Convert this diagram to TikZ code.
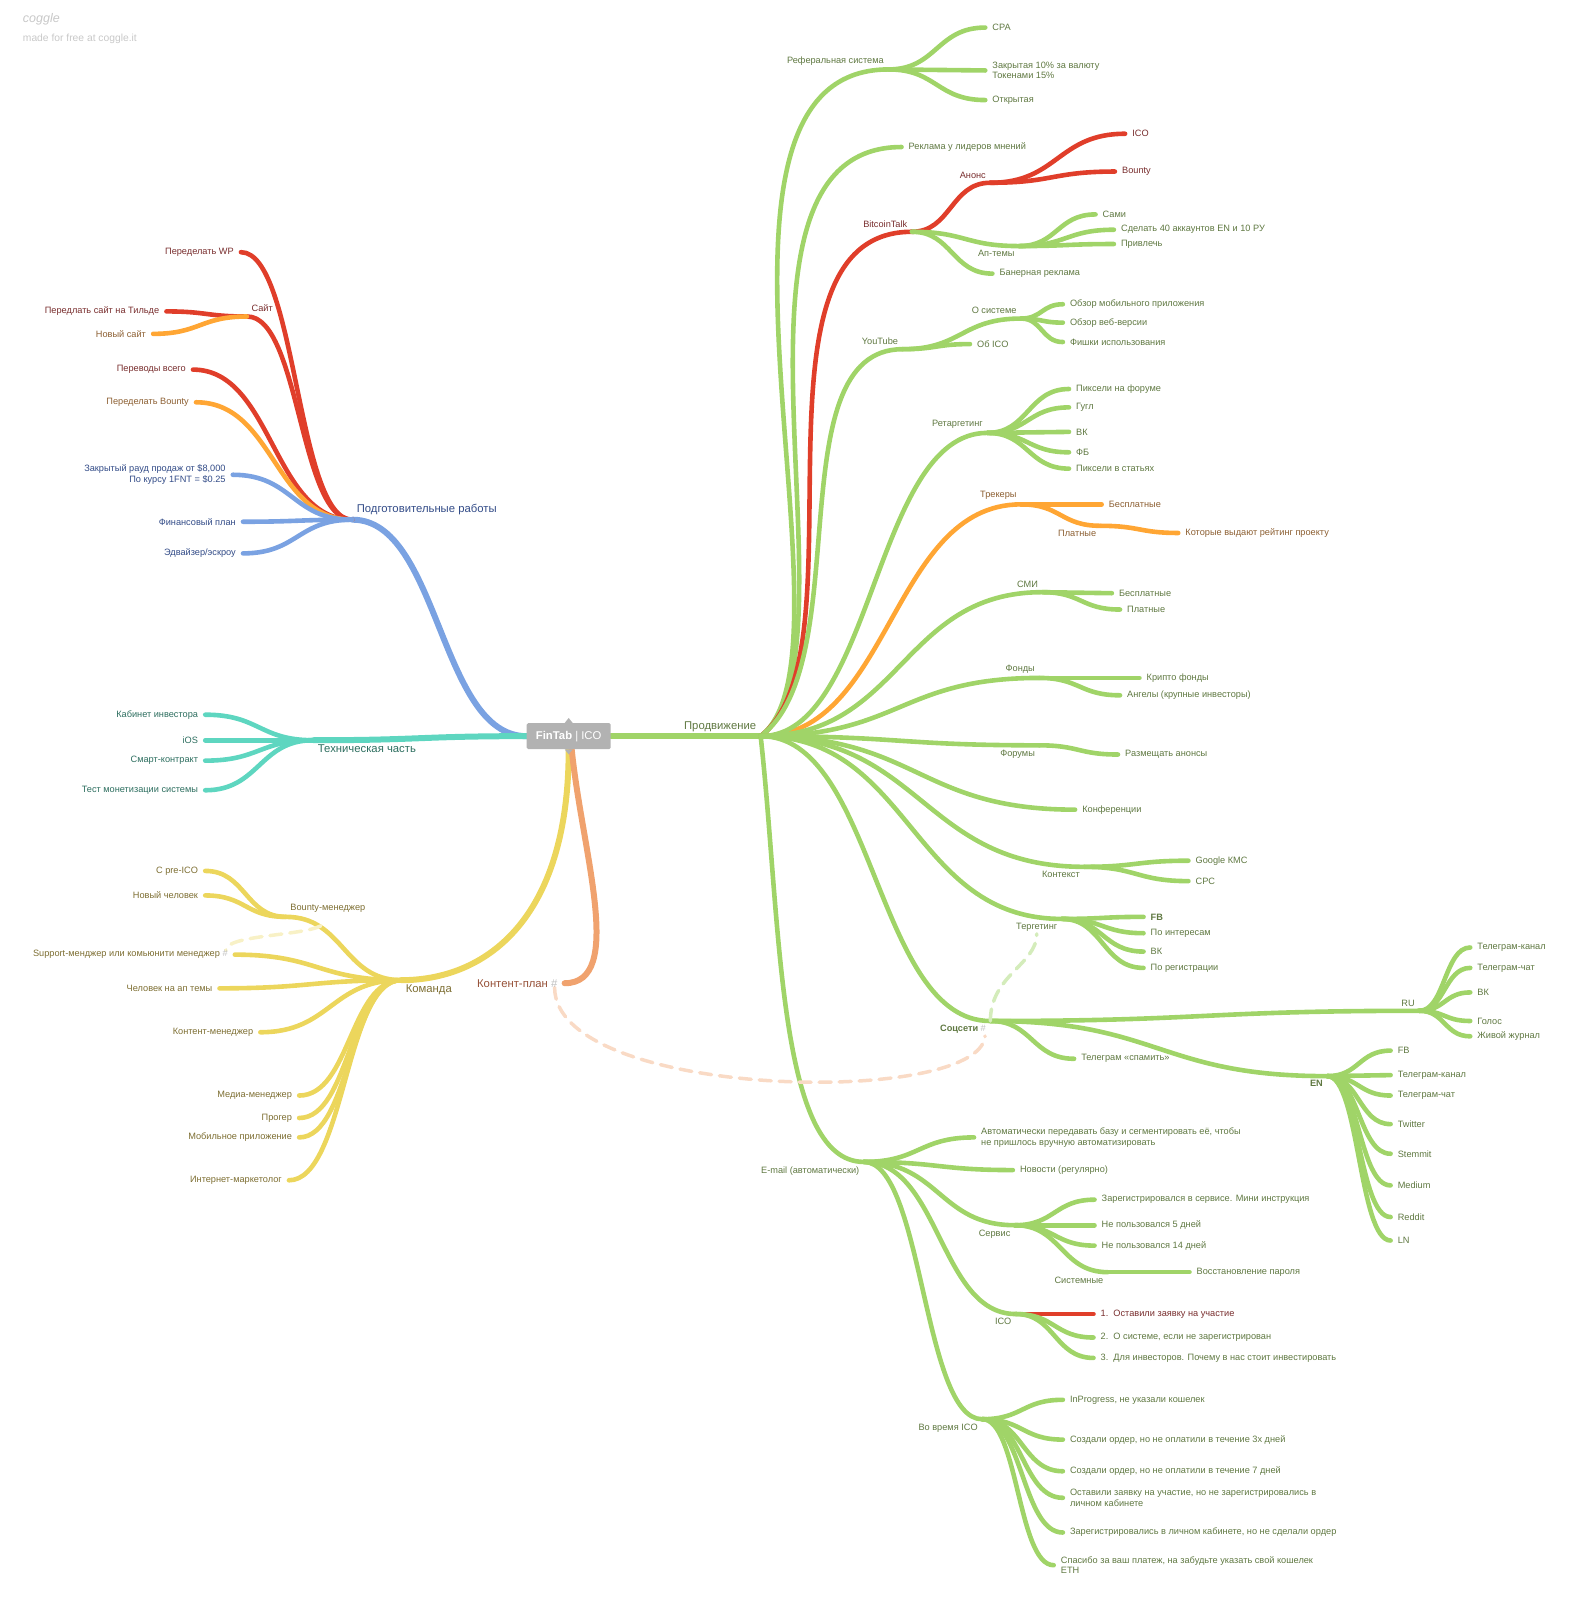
\documentclass[tikz,border=0pt]{standalone}
\usepackage{fontspec}
\setmainfont{Liberation Sans}
\usetikzlibrary{calc,backgrounds}

\definecolor{lgreen}{RGB}{160,212,104}
\definecolor{tgreen}{RGB}{95,120,65}
\definecolor{lred}{RGB}{224,62,42}
\definecolor{tred}{RGB}{120,45,45}
\definecolor{lorange}{RGB}{255,166,52}
\definecolor{torange}{RGB}{140,95,50}
\definecolor{lblue}{RGB}{122,162,226}
\definecolor{tblue}{RGB}{50,75,135}
\definecolor{lteal}{RGB}{94,214,192}
\definecolor{tteal}{RGB}{45,110,95}
\definecolor{lyellow}{RGB}{236,214,92}
\definecolor{tyellow}{RGB}{125,110,50}
\definecolor{lsalmon}{RGB}{240,162,110}
\definecolor{tsalmon}{RGB}{150,80,55}
\definecolor{hash}{RGB}{190,190,190}
\definecolor{rootgray}{RGB}{178,178,178}
\definecolor{logo}{RGB}{200,200,200}

\tikzset{
  hub/.style={inner sep=0pt, minimum size=0pt},
  leaf/.style={font=\fontsize{9.2}{10.7}\selectfont, inner xsep=7pt, inner ysep=0pt},
  lleaf/.style={leaf, anchor=east, align=right},
  rleaf/.style={leaf, anchor=west, align=left},
  lab/.style={font=\fontsize{9.2}{10.7}\selectfont, inner sep=2pt},
  big/.style={font=\fontsize{11.3}{13}\selectfont},
  root/.style={fill=rootgray, text=white, font=\fontsize{11.3}{13}\selectfont,
    minimum width=84pt, minimum height=26pt, rounded corners=1.5pt},
  wire/.style={line width=4.6pt, line cap=round},
  trunk/.style={wire, line width=6pt},
  hint/.style={line width=3.5pt, dash pattern=on 12pt off 8pt, line cap=round},
  branch/.style={to path={let \p1=(\tikztostart), \p2=(\tikztotarget) in
      .. controls ({\x1+#1*(\x2-\x1)},\y1) and ({\x2-#1*(\x2-\x1)},\y2) .. (\tikztotarget)}},
  branch/.default=0.5,
}

\begin{document}
\begin{tikzpicture}[x=1.021pt,y=-1.021pt,label distance=3pt]
\useasboundingbox (0,0) rectangle (1544.6,1567.1);

% logo
\node[anchor=west, text=logo, font=\itshape\fontsize{12.5}{12.5}\selectfont] (coggle) at (19,19) {coggle};
\node[anchor=west, text=logo, font=\fontsize{10.3}{11}\selectfont] (madefor) at (19,38) {made for free at coggle.it};

% centre
\node[root] (fin) at (557,721) {\textbf{FinTab} | ICO};
\fill[rootgray] ([xshift=-4pt]fin.north) -- ([yshift=5pt]fin.north) -- ([xshift=4pt]fin.north) -- cycle;
\fill[rootgray] ([xshift=-4pt]fin.south) -- ([yshift=-5pt]fin.south) -- ([xshift=4pt]fin.south) -- cycle;

% hubs, left
\node[hub, label={[lab,big,text=tblue]above right:Подготовительные работы}] (prep) at (345,509) {};
\node[hub, label={[lab,text=tred]above right:Сайт}] (site) at (242,310) {};
\node[hub, label={[lab,big,text=tteal]below right:Техническая часть}] (tech) at (307,725) {};
\node[hub, label={[lab,big,text=tyellow]below right:Команда}] (team) at (393,960) {};
\node[hub, label={[lab,text=tyellow]above right:Bounty-менеджер}] (bounty) at (280,898) {};

% hubs, right
\node[hub, label={[lab,big,text=tgreen]above left:Продвижение}] (promo) at (745,721) {};
\node[hub, label={[lab,text=tgreen]above left:Реферальная система}] (referal) at (870,68) {};
\node[hub, label={[lab,text=tred]above left:BitcoinTalk}] (btalk) at (893,227) {};
\node[hub, label={[lab,text=tred]above left:Анонс}] (anons) at (970,179) {};
\node[hub, label={[lab,text=tgreen]below left:Ап-темы}] (uptheme) at (998,241) {};
\node[hub, label={[lab,text=tgreen]above left:YouTube}] (yt) at (884,342) {};
\node[hub, label={[lab,text=tgreen]above left:О системе}] (aboutsys) at (1000,312) {};
\node[hub, label={[lab,text=tgreen]above left:Ретаргетинг}] (retarget) at (967,424) {};
\node[hub, label={[lab,text=torange]above left:Трекеры}] (trackers) at (1000,494) {};
\node[hub, label={[lab,text=torange]below left:Платные}] (paid) at (1078,515) {};
\node[hub, label={[lab,text=tgreen]above left:СМИ}] (smi) at (1021,580) {};
\node[hub, label={[lab,text=tgreen]above left:Фонды}] (funds) at (1018,664) {};
\node[hub, label={[lab,text=tgreen]below left:Форумы}] (forums) at (1018,730) {};
\node[hub, label={[lab,text=tgreen]below left:Контекст}] (context) at (1062,849) {};
\node[hub, label={[lab,text=tgreen,name=terg-l]below left:Тергетинг}] (target) at (1040,900) {};
\node[hub, label={[lab,text=tgreen,name=socs-l]below left:{\textbf{Соцсети} \textcolor{hash}{\#}}}] (socs) at (970,1000) {};
\node[hub, label={[lab,text=tgreen]above left:RU}] (ru) at (1390,990) {};
\node[hub, label={[lab,text=tgreen]below left:\textbf{EN}}] (en) at (1300,1054) {};
\node[hub, label={[lab,text=tgreen]below left:E-mail (автоматически)}] (email) at (846,1138) {};
\node[hub, label={[lab,text=tgreen]below left:Сервис}] (service) at (994,1200) {};
\node[hub, label={[lab,text=tgreen]below left:Системные}] (system) at (1085,1246) {};
\node[hub, label={[lab,text=tgreen]below left:ICO}] (icomail) at (995,1287) {};
\node[hub, label={[lab,text=tgreen]below left:Во время ICO}] (during) at (962,1390) {};

% leaves, left
\node[lleaf, text=tred] (wp) at (236,247) {Переделать WP};
\node[lleaf, text=tred] (tilda) at (163,305) {Передлать сайт на Тильде};
\node[lleaf, text=torange] (newsite) at (150,327) {Новый сайт};
\node[lleaf, text=tred] (transl) at (189,362) {Переводы всего};
\node[lleaf, text=torange] (rebounty) at (192,394) {Переделать Bounty};
\node[lleaf, text=tblue] (closed) at (228,465) {Закрытый рауд продаж от \$8,000\\По курсу 1FNT = \$0.25};
\node[lleaf, text=tblue] (finplan) at (238,511) {Финансовый план};
\node[lleaf, text=tblue] (escrow) at (238,542) {Эдвайзер/эскроу};
\node[lleaf, text=tteal] (cabinet) at (201,700) {Кабинет инвестора};
\node[lleaf, text=tteal] (ios) at (201,725) {iOS};
\node[lleaf, text=tteal] (smart) at (201,745) {Смарт-контракт};
\node[lleaf, text=tteal] (test) at (201,774) {Тест монетизации системы};
\node[lleaf, text=tyellow] (preico) at (201,853) {С pre-ICO};
\node[lleaf, text=tyellow] (newman) at (201,877) {Новый человек};
\node[lleaf, text=tyellow] (supp) at (230,935) {Support-менджер или комьюнити менеджер \textcolor{hash}{\#}};
\node[lleaf, text=tyellow] (uptopic) at (215,968) {Человек на ап темы};
\node[lleaf, text=tyellow] (contman) at (255,1011) {Контент-менеджер};
\node[lleaf, text=tyellow] (media) at (293,1073) {Медиа-менеджер};
\node[lleaf, text=tyellow] (proger) at (293,1095) {Прогер};
\node[lleaf, text=tyellow] (mobile) at (293,1114) {Мобильное приложение};
\node[lleaf, text=tyellow] (marketer) at (283,1156) {Интернет-маркетолог};
\node[lleaf, big, text=tsalmon] (kplan) at (553,963) {Контент-план \textcolor{hash}{\#}};

% leaves, right
\node[rleaf, text=tgreen] (cpa) at (965,27) {CPA};
\node[rleaf, text=tgreen] (closedref) at (965,69) {Закрытая 10\% за валюту\\Токенами 15\%};
\node[rleaf, text=tgreen] (openref) at (965,98) {Открытая};
\node[rleaf, text=tgreen] (leaders) at (883,144) {Реклама у лидеров мнений};
\node[rleaf, text=tred] (btico) at (1102,131) {ICO};
\node[rleaf, text=tred] (btbounty) at (1092,168) {Bounty};
\node[rleaf, text=tgreen] (sami) at (1073,210) {Сами};
\node[rleaf, text=tgreen] (make40) at (1091,225) {Сделать 40 аккаунтов EN и 10 РУ};
\node[rleaf, text=tgreen] (attract) at (1091,239) {Привлечь};
\node[rleaf, text=tgreen] (banner) at (972,268) {Банерная реклама};
\node[rleaf, text=tgreen] (mobrev) at (1041,298) {Обзор мобильного приложения};
\node[rleaf, text=tgreen] (webrev) at (1041,316) {Обзор веб-версии};
\node[rleaf, text=tgreen] (tricks) at (1041,335) {Фишки использования};
\node[rleaf, text=tgreen] (aboutico) at (950,337) {Об ICO};
\node[rleaf, text=tgreen] (pixforum) at (1047,381) {Пиксели на форуме};
\node[rleaf, text=tgreen] (google) at (1047,399) {Гугл};
\node[rleaf, text=tgreen] (rvk) at (1047,423) {ВК};
\node[rleaf, text=tgreen] (rfb) at (1047,443) {ФБ};
\node[rleaf, text=tgreen] (pixart) at (1047,459) {Пиксели в статьях};
\node[rleaf, text=torange] (trfree) at (1079,494) {Бесплатные};
\node[rleaf, text=torange] (rating) at (1154,522) {Которые выдают рейтинг проекту};
\node[rleaf, text=tgreen] (smifree) at (1089,581) {Бесплатные};
\node[rleaf, text=tgreen] (smipaid) at (1097,597) {Платные};
\node[rleaf, text=tgreen] (crypto) at (1116,664) {Крипто фонды};
\node[rleaf, text=tgreen] (angels) at (1097,681) {Ангелы (крупные инвесторы)};
\node[rleaf, text=tgreen] (announce) at (1095,739) {Размещать анонсы};
\node[rleaf, text=tgreen] (conf) at (1053,793) {Конференции};
\node[rleaf, text=tgreen] (kms) at (1164,843) {Google КМС};
\node[rleaf, text=tgreen] (cpc) at (1164,863) {CPC};
\node[rleaf, text=tgreen] (tfb) at (1120,898) {\textbf{FB}};
\node[rleaf, text=tgreen] (interest) at (1120,914) {По интересам};
\node[rleaf, text=tgreen] (tvk) at (1120,932) {ВК};
\node[rleaf, text=tgreen] (byreg) at (1120,948) {По регистрации};
\node[rleaf, text=tgreen] (rutgch) at (1440,928) {Телеграм-канал};
\node[rleaf, text=tgreen] (rutgchat) at (1440,948) {Телеграм-чат};
\node[rleaf, text=tgreen] (ruvk) at (1440,972) {ВК};
\node[rleaf, text=tgreen] (golos) at (1440,1000) {Голос};
\node[rleaf, text=tgreen] (lj) at (1440,1015) {Живой журнал};
\node[rleaf, text=tgreen] (spam) at (1052,1037) {Телеграм «спамить»};
\node[rleaf, text=tgreen] (enfb) at (1362,1029) {FB};
\node[rleaf, text=tgreen] (entgch) at (1362,1053) {Телеграм-канал};
\node[rleaf, text=tgreen] (entgchat) at (1362,1073) {Телеграм-чат};
\node[rleaf, text=tgreen] (twitter) at (1362,1101) {Twitter};
\node[rleaf, text=tgreen] (steemit) at (1362,1130) {Stemmit};
\node[rleaf, text=tgreen] (medium) at (1362,1161) {Medium};
\node[rleaf, text=tgreen] (reddit) at (1362,1192) {Reddit};
\node[rleaf, text=tgreen] (ln) at (1362,1215) {LN};
\node[rleaf, text=tgreen] (auto) at (954,1114) {Автоматически передавать базу и сегментировать её, чтобы\\не пришлось вручную автоматизировать};
\node[rleaf, text=tgreen] (news) at (992,1146) {Новости (регулярно)};
\node[rleaf, text=tgreen] (reg) at (1072,1175) {Зарегистрировался в сервисе. Мини инструкция};
\node[rleaf, text=tgreen] (nouse5) at (1072,1200) {Не пользовался 5 дней};
\node[rleaf, text=tgreen] (nouse14) at (1072,1220) {Не пользовался 14 дней};
\node[rleaf, text=tgreen] (passw) at (1165,1246) {Восстановление пароля};
\node[rleaf, text=tred] (ico1) at (1071,1287) {1.\ \ Оставили заявку на участие};
\node[rleaf, text=tgreen] (ico2) at (1071,1310) {2.\ \ О системе, если не зарегистрирован};
\node[rleaf, text=tgreen] (ico3) at (1071,1330) {3.\ \ Для инвесторов. Почему в нас стоит инвестировать};
\node[rleaf, text=tgreen] (inprog) at (1041,1371) {InProgress, не указали кошелек};
\node[rleaf, text=tgreen] (order3) at (1041,1410) {Создали ордер, но не оплатили в течение 3х дней};
\node[rleaf, text=tgreen] (order7) at (1041,1441) {Создали ордер, но не оплатили в течение 7 дней};
\node[rleaf, text=tgreen] (applied) at (1041,1467) {Оставили заявку на участие, но не зарегистрировались в\\личном кабинете};
\node[rleaf, text=tgreen] (noorder) at (1041,1501) {Зарегистрировались в личном кабинете, но не сделали ордер};
\node[rleaf, text=tgreen] (thanks) at (1032,1533) {Спасибо за ваш платеж, на забудьте указать свой кошелек\\ETH};

\begin{scope}[on background layer]
% first level
\draw[trunk, lblue] (fin.west) to[branch] (prep);
\draw[trunk, lteal] (fin.west) to[branch] (tech);
\draw[trunk, lgreen] (fin.east) to[branch] (promo);
\draw[trunk, lyellow] (fin.south) .. controls +(0,170) and +(80,0) .. (team);
\draw[trunk, lsalmon] ([xshift=3pt]fin.south) .. controls +(10,100) and +(60,0) .. (kplan.east);

% left side
\foreach \dst/\col in {wp/lred,site/lred,transl/lred,rebounty/lorange,closed/lblue,finplan/lblue,escrow/lblue}
  \draw[wire,\col] (prep) to[branch] (\dst.east);
\draw[wire, lred] (site) to[branch] (tilda.east);
\draw[wire, lorange] (site) to[branch] (newsite.east);
\foreach \dst in {cabinet,ios,smart,test}
  \draw[wire, lteal] (tech) to[branch] (\dst.east);
\foreach \dst in {bounty,supp,uptopic,contman,media,proger,mobile,marketer}
  \draw[wire, lyellow] (team) to[branch] (\dst.east);
\foreach \dst in {preico,newman}
  \draw[wire, lyellow] (bounty) to[branch] (\dst.east);

% promotion
\draw[wire, lgreen] (promo.center) .. controls +(105,-81) and +(-220,0) .. (referal.center);
\draw[wire, lgreen] (promo.center) .. controls +(105,-81) and +(-203,0) .. (leaders.west);
\draw[wire, lred] (promo.center) .. controls +(105,-81) and +(-173,0) .. (btalk.center);
\draw[wire, lgreen] (promo.center) .. controls +(95,-71) and +(-124,0) .. (yt.center);
\draw[wire, lorange] (promo) to[branch] (trackers);
\foreach \dst in {retarget,smi,funds,forums,conf,context,target,socs}
  \draw[wire, lgreen] (promo) to[branch] (\dst.west);
\draw[wire, lgreen] (promo.center) .. controls +(20,180) and +(-85,0) .. (email.center);

\foreach \src/\dst/\col in {referal/cpa/lgreen, referal/closedref/lgreen, referal/openref/lgreen,
    btalk/anons/lred, btalk/uptheme/lgreen, btalk/banner/lgreen,
    anons/btico/lred, anons/btbounty/lred,
    uptheme/sami/lgreen, uptheme/make40/lgreen, uptheme/attract/lgreen,
    yt/aboutsys/lgreen, yt/aboutico/lgreen,
    aboutsys/mobrev/lgreen, aboutsys/webrev/lgreen, aboutsys/tricks/lgreen,
    retarget/pixforum/lgreen, retarget/google/lgreen, retarget/rvk/lgreen, retarget/rfb/lgreen, retarget/pixart/lgreen,
    trackers/trfree/lorange, trackers/paid/lorange, paid/rating/lorange,
    smi/smifree/lgreen, smi/smipaid/lgreen,
    funds/crypto/lgreen, funds/angels/lgreen,
    forums/announce/lgreen,
    context/kms/lgreen, context/cpc/lgreen,
    target/tfb/lgreen, target/interest/lgreen, target/tvk/lgreen, target/byreg/lgreen,
    socs/ru/lgreen, socs/spam/lgreen, socs/en/lgreen,
    ru/rutgch/lgreen, ru/rutgchat/lgreen, ru/ruvk/lgreen, ru/golos/lgreen, ru/lj/lgreen,
    en/enfb/lgreen, en/entgch/lgreen, en/entgchat/lgreen, en/twitter/lgreen,
    en/steemit/lgreen, en/medium/lgreen, en/reddit/lgreen, en/ln/lgreen,
    email/auto/lgreen, email/news/lgreen, email/service/lgreen, email/icomail/lgreen, email/during/lgreen,
    service/reg/lgreen, service/nouse5/lgreen, service/nouse14/lgreen, service/system/lgreen,
    system/passw/lgreen,
    icomail/ico1/lred, icomail/ico2/lgreen, icomail/ico3/lgreen,
    during/inprog/lgreen, during/order3/lgreen, during/order7/lgreen,
    during/applied/lgreen, during/noorder/lgreen, during/thanks/lgreen}
  \draw[wire,\col] (\src) to[branch] (\dst.west);

% cross links
\draw[hint, lsalmon!40] ([xshift=-10pt]kplan.south east) .. controls +(0,110) and +(-5,70) .. ([xshift=-3pt]socs-l.south east);
\draw[hint, lgreen!45] (socs.center) .. controls +(0,-45) and +(0,30) .. (terg-l.south);
\draw[hint, lyellow!35] ([xshift=35pt,yshift=-9pt]bounty.center) .. controls +(-20,10) and +(0,-15) .. ([xshift=-9pt]supp.north east);
\end{scope}
\end{tikzpicture}
\end{document}
